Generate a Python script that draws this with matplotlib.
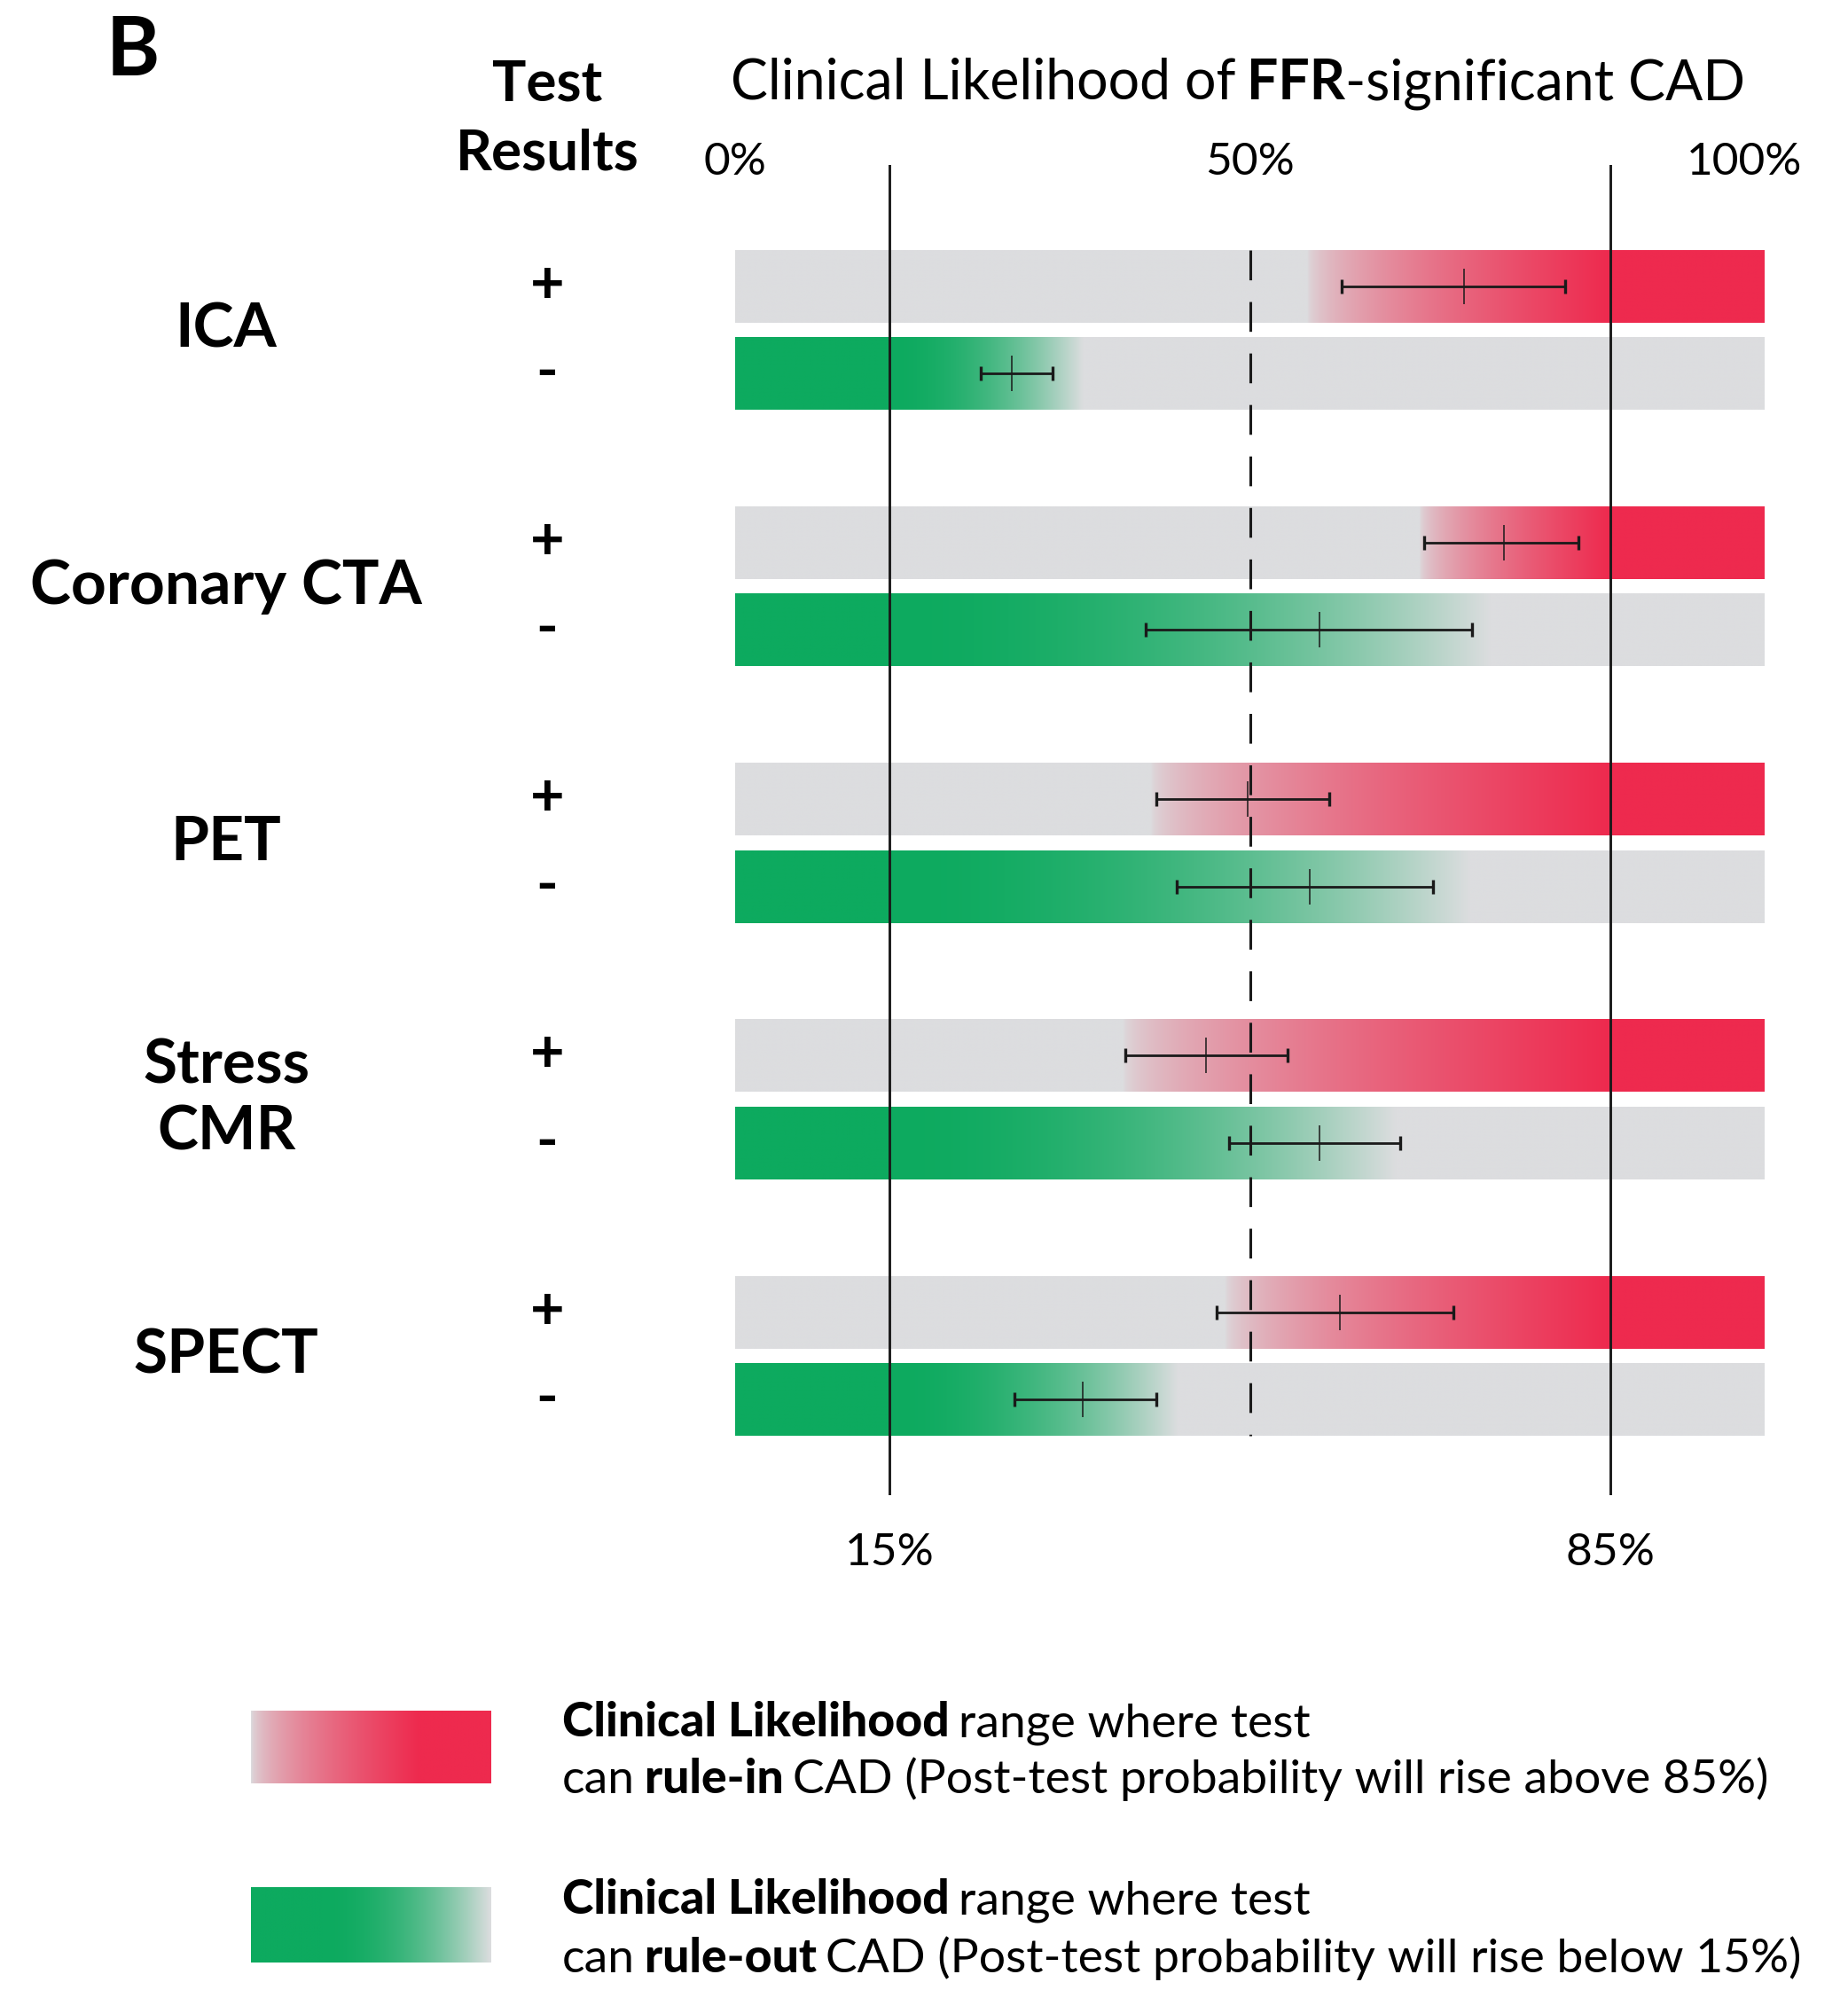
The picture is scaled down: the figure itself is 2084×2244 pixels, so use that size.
import numpy as np
import matplotlib
matplotlib.use('Agg')
import matplotlib.pyplot as plt
import matplotlib.transforms as mtransforms
from matplotlib.colors import to_rgb

W, H = 2084, 2244

tests = ['ICA', 'Coronary CTA', 'PET', 'Stress\nCMR', 'SPECT']

# post-test estimate with range (%), positive and negative test result
pos_low = [58.9, 66.9, 40.9, 37.9, 46.8]
pos_mid = [70.8, 74.7, 49.8, 45.7, 58.7]
pos_high = [80.6, 81.9, 57.7, 53.7, 69.8]
neg_low = [23.9, 39.9, 42.9, 48.0, 27.1]
neg_mid = [26.9, 56.8, 55.8, 56.8, 33.8]
neg_high = [30.8, 71.6, 67.8, 64.6, 40.9]

# clinical likelihood where the rule-in range starts / rule-out range ends
rulein_start = [55.6, 66.5, 40.4, 37.7, 47.6]
ruleout_end = [33.8, 73.4, 71.4, 64.2, 43.0]
rule_in_cut = 85
rule_out_cut = 15

top_ticks = ['0%', '50%', '100%']
top_tick_pos = [0, 50, 98]
bottom_ticks = ['15%', '85%']
bottom_tick_pos = [15, 85]

red = np.array(to_rgb('#EE2A4E'))
green = np.array(to_rgb('#0DAA5F'))
gray = np.array(to_rgb('#DCDDDF'))
ink = '#1a1a1a'

plt.rcParams['font.family'] = ['Lato', 'DejaVu Sans']

fig = plt.figure(figsize=(W / 100, H / 100), dpi=100)
renderer = fig.canvas.get_renderer()

# main panel: x in %, y in row units (1 = one test group)
ax = fig.add_axes([829 / W, 1 - 1686 / H, 1161 / W, 1500 / H])
neg_off = 0.3406
bh = 0.2835

xs = np.linspace(0, 100, 1201)


def blend(c, a):
    return gray[None, :] * (1 - a[:, None]) + c[None, :] * a[:, None]


for i in range(len(tests)):
    # rule-in bar (red gradient up to 85%)
    t = np.clip((xs - rulein_start[i]) / (rule_in_cut - rulein_start[i]), 0, 1)
    img = blend(red, t ** 0.6)[None, :, :]
    ax.imshow(img, extent=[0, 100, i + bh / 2, i - bh / 2], aspect='auto',
              interpolation='bilinear', zorder=1)
    # rule-out bar (green until 15%, then fading)
    t = np.clip((xs - rule_out_cut) / (ruleout_end[i] - rule_out_cut), 0, 1)
    img = blend(green, 1 - t ** 2)[None, :, :]
    yn = i + neg_off
    ax.imshow(img, extent=[0, 100, yn + bh / 2, yn - bh / 2], aspect='auto',
              interpolation='bilinear', zorder=1)

# reference lines
ax.axvline(rule_out_cut, color=ink, lw=2.1, zorder=4)
ax.axvline(rule_in_cut, color=ink, lw=2.1, zorder=4)
n = len(tests)
ax.plot([50, 50], [-bh / 2, n - 1 + neg_off + bh / 2], color=ink, lw=2.2,
        ls=(0, (11, 8)), zorder=4)

# error bars
ypos = np.arange(n)
for low, mid, high, yy in [(pos_low, pos_mid, pos_high, ypos),
                           (neg_low, neg_mid, neg_high, ypos + neg_off)]:
    low, mid, high = np.array(low), np.array(mid), np.array(high)
    ax.errorbar(mid, yy, xerr=[mid - low, high - mid], fmt='none', ecolor=ink,
                elinewidth=2.0, capsize=6, capthick=2.4, zorder=5)
    ax.plot(mid, yy, ls='none', marker='|', ms=29, mew=1.1, color=ink, zorder=6)

ax.set_xlim(0, 100)
ax.set_ylim(4.714, -0.473)
ax.axis('off')

# labels
fig.text(150 / W, 1 - 85 / H, 'B', fontsize=66, fontweight='bold', ha='center',
         va='baseline')
fig.text(617 / W, 1 - 114 / H, 'Test', fontsize=46, fontweight='bold',
         ha='center', va='baseline')
fig.text(617 / W, 1 - 192 / H, 'Results', fontsize=46, fontweight='bold',
         ha='center', va='baseline')

tr_x = mtransforms.blended_transform_factory(ax.transData, fig.transFigure)
tr_y = mtransforms.blended_transform_factory(fig.transFigure, ax.transData)

for s, p in zip(top_ticks, top_tick_pos):
    ax.text(p, 1 - 197 / H, s, transform=tr_x, fontsize=37, fontweight='normal',
            ha='center', va='baseline')
for s, p in zip(bottom_ticks, bottom_tick_pos):
    ax.text(p, 1 - 1765 / H, s, transform=tr_x, fontsize=37, fontweight='normal',
            ha='center', va='baseline')

for i, name in enumerate(tests):
    ax.text(255 / W, i + neg_off / 2, name, transform=tr_y, fontsize=50,
            fontweight='bold', ha='center', va='center', multialignment='center',
            linespacing=1.25)
    ax.text(617 / W, i, '+', transform=tr_y, fontsize=48, fontweight='bold',
            ha='center', va='center')
    ax.text(617 / W, i + neg_off, '-', transform=tr_y, fontsize=48,
            fontweight='bold', ha='center', va='center')


def runs_text(x_px, y_px, runs, size, center=False):
    gap = 0.2 * size * 100 / 72
    x = x_px
    texts = []
    for s, w in runs:
        if s.startswith(' '):
            x += gap
        t = fig.text(x / W, 1 - y_px / H, s.strip(), fontsize=size, fontweight=w,
                     ha='left', va='baseline')
        x = t.get_window_extent(renderer).x1
        if s.endswith(' '):
            x += gap
        texts.append(t)
    if center:
        shift = -(x - x_px) / 2
        for t in texts:
            px, py = t.get_position()
            t.set_position((px + shift / W, py))


runs_text(1396, 112, [('Clinical Likelihood of ', 'normal'), ('FFR', 'bold'),
                      ('-significant CAD', 'normal')], 45, center=True)

# legend swatches
lx = np.linspace(0, 1, 400)
sw_red = fig.add_axes([283 / W, 1 - 2011 / H, 271 / W, 82 / H])
sw_red.imshow(blend(red, np.clip(lx / 0.7, 0, 1) ** 0.6)[None, :, :],
              aspect='auto', interpolation='bilinear')
sw_red.axis('off')
sw_green = fig.add_axes([283 / W, 1 - 2213 / H, 271 / W, 85 / H])
sw_green.imshow(blend(green, 1 - np.clip((lx - 0.3) / 0.7, 0, 1) ** 2)[None, :, :],
                aspect='auto', interpolation='bilinear')
sw_green.axis('off')

runs_text(634, 1958, [('Clinical Likelihood ', 'black'),
                      ('range where test', 'normal')], 38.5)
runs_text(634, 2022, [('can ', 'normal'), ('rule-in ', 'black'),
                      ('CAD (Post-test probability will rise above 85%)', 'normal')], 38.5)
runs_text(634, 2158, [('Clinical Likelihood ', 'black'),
                      ('range where test', 'normal')], 38.5)
runs_text(634, 2224, [('can ', 'normal'), ('rule-out ', 'black'),
                      ('CAD (Post-test probability will rise below 15%)', 'normal')], 38.5)

fig.savefig('out.png', dpi=100, facecolor='white')
